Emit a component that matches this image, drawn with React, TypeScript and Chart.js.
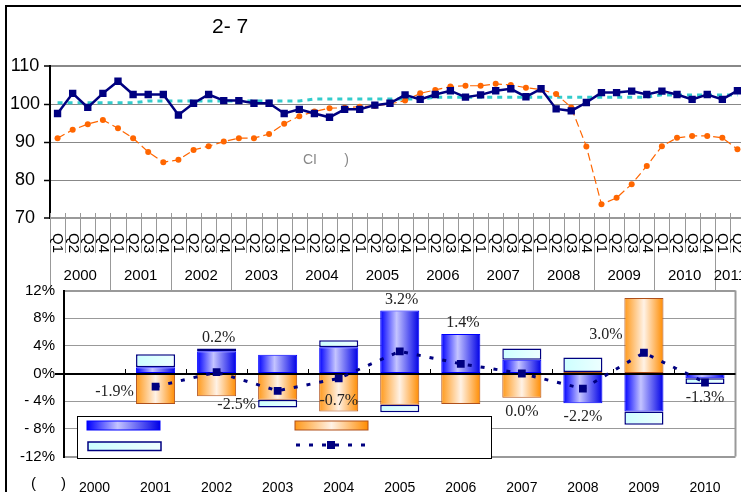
import React, { useEffect, useRef } from "react";
import { Chart, registerables } from "chart.js";

Chart.register(...registerables);

const SANS = '"Liberation Sans", Arial, sans-serif';
const SERIF = '"Liberation Serif", "Times New Roman", serif';

// ---------- Top chart (quarterly index) ----------
const quarterYears = ["2000", "2001", "2002", "2003", "2004", "2005", "2006", "2007", "2008", "2009", "2010", "2011"];
const quarterNames = ["Q1", "Q2", "Q3", "Q4"];
const lastYearQuarterCount = 2;

const quarterCats: { year: string; q: string }[] = [];
quarterYears.forEach((y, yi) => {
  const count = yi === quarterYears.length - 1 ? lastYearQuarterCount : 4;
  for (let k = 0; k < count; k++) quarterCats.push({ year: y, q: quarterNames[k] });
});
const quarterLabels = quarterCats.map((c) => c.year + " " + c.q);

const indexNavy = [
  97.5, 102.8, 99.1, 102.8, 106.0, 102.5, 102.5, 102.5,
  97.1, 100.2, 102.5, 100.9, 100.9, 100.2, 100.2, 97.5,
  98.6, 97.5, 96.5, 98.6, 98.6, 99.7, 100.2, 102.4,
  101.2, 102.5, 103.5, 101.8, 102.4, 103.5, 104.0, 101.9,
  104.0, 98.7, 98.2, 100.4, 103.0, 103.0, 103.4, 102.5,
  103.4, 102.5, 101.2, 102.5, 101.2, 103.5,
];
const indexOrange = [
  91.0, 93.2, 94.7, 95.8, 93.6, 91.0, 87.4, 84.7,
  85.3, 87.9, 88.9, 90.1, 91.0, 91.0, 92.1, 94.8,
  96.8, 98.0, 98.9, 99.0, 99.3, 99.5, 100.0, 100.9,
  102.8, 103.7, 104.6, 104.8, 104.8, 105.3, 105.0, 104.3,
  103.8, 102.6, 99.1, 88.8, 73.6, 75.3, 78.9, 83.7,
  88.9, 91.1, 91.6, 91.6, 91.1, 88.1,
];
const indexTrend = [
  100.3, 100.3, 100.3, 100.3, 100.3, 100.3, 100.8, 100.8,
  100.8, 100.8, 100.8, 100.8, 100.8, 100.8, 100.8, 100.8,
  100.8, 101.3, 101.3, 101.3, 101.3, 101.3, 101.3, 101.3,
  101.3, 101.8, 101.8, 101.8, 101.8, 101.8, 101.8, 101.8,
  101.8, 101.8, 101.8, 101.8, 101.8, 101.8, 101.8, 101.8,
  102.4, 102.4, 102.4, 102.4, 102.4, 102.4,
];
const topYMin = 70;
const topYMax = 110;
const topYStep = 10;

// ---------- Bottom chart (annual contributions) ----------
const annualYears = ["2000", "2001", "2002", "2003", "2004", "2005", "2006", "2007", "2008", "2009", "2010"];
const shareBlue = [null, 0.9, 3.2, 2.7, 3.8, 9.1, 5.7, 2.0, -4.3, -5.5, -0.7];
const shareOrange = [null, -4.4, -3.3, -3.8, -5.5, -4.5, -4.4, -3.5, 0.2, 10.9, 0];
const shareCyan = [null, 1.9, 0.4, -1.1, 1.0, -1.1, 0, 1.6, 2.1, -1.9, -0.8];
const totalGrowth = [null, -1.9, 0.2, -2.5, -0.7, 3.2, 1.4, 0.0, -2.2, 3.0, -1.3];
const totalLabelPlacement = ["", "left", "above", "belowLeft", "inside", "above", "above", "below", "below", "aboveLeft", "below"];
const bottomTickValues = [-12, -8, -4, 0, 4, 8, 12];
const bottomTickLabels = ["-12%", "- 8%", "- 4%", "0%", "4%", "8%", "12%"];

const BAR_PCT = 0.64;
const BLUE_STOPS: [number, string][] = [[0, "#0000ff"], [0.42, "#c4c4ff"], [1, "#0000e6"]];
const ORANGE_STOPS: [number, string][] = [[0, "#ff991a"], [0.5, "#fff2e6"], [1, "#ff8c00"]];
const CYAN_STOPS: [number, string][] = [[0, "#ccffff"], [1, "#eeffff"]];

function makeGrad(ctx: CanvasRenderingContext2D, x0: number, x1: number, stops: [number, string][]) {
  const g = ctx.createLinearGradient(x0, 0, x1, 0);
  stops.forEach(([o, c]) => g.addColorStop(o, c));
  return g;
}

function barFill(stops: [number, string][]) {
  return (c: any) => {
    const chart = c.chart;
    const xs = chart.scales && chart.scales.x;
    if (!xs || c.dataIndex === undefined || !xs.width) return stops[0][1];
    const cx = xs.getPixelForValue(c.dataIndex);
    const w = (xs.width / annualYears.length) * BAR_PCT;
    return makeGrad(chart.ctx, cx - w / 2, cx + w / 2, stops);
  };
}

const quarterAxisPlugin = {
  id: "quarterAxis",
  afterDraw(chart: any) {
    const { ctx, chartArea } = chart;
    const x = chart.scales.x;
    const n = quarterLabels.length;
    const step = x.width / n;
    ctx.save();
    ctx.strokeStyle = "#999";
    ctx.lineWidth = 1;
    for (let i = 0; i <= n; i++) {
      const bx = Math.round(x.getPixelForValue(i) - step / 2) + 0.5;
      const isYear = i === n || quarterCats[i].q === "Q1";
      ctx.beginPath();
      ctx.moveTo(bx, chartArea.bottom - 5);
      ctx.lineTo(bx, isYear ? chartArea.bottom + 72 : chartArea.bottom + 35);
      ctx.stroke();
    }
    ctx.fillStyle = "#000";
    ctx.font = "15px " + SANS;
    ctx.textAlign = "left";
    ctx.textBaseline = "middle";
    for (let i = 0; i < n; i++) {
      ctx.save();
      ctx.translate(x.getPixelForValue(i), chartArea.bottom + 15);
      ctx.rotate(Math.PI / 2);
      ctx.fillText(quarterCats[i].q, 0, 0);
      ctx.restore();
    }
    ctx.textAlign = "center";
    ctx.font = "15px " + SANS;
    quarterYears.forEach((y) => {
      const idx = quarterCats.map((c, i) => (c.year === y ? i : -1)).filter((i) => i >= 0);
      const a = x.getPixelForValue(idx[0]) - step / 2;
      const b = x.getPixelForValue(idx[idx.length - 1]) + step / 2;
      ctx.fillText(y, (a + b) / 2, chartArea.bottom + 58);
    });
    ctx.restore();
  },
};

const bottomDecorPlugin = {
  id: "bottomDecor",
  beforeDatasetsDraw(chart: any) {
    const { ctx, chartArea } = chart;
    ctx.save();
    ctx.strokeStyle = "#999";
    ctx.lineWidth = 2;
    ctx.beginPath();
    ctx.moveTo(chartArea.right, chartArea.top);
    ctx.lineTo(chartArea.right, chartArea.bottom);
    ctx.stroke();
    ctx.restore();
  },
  beforeDatasetDraw(chart: any, args: any) {
    if (args.meta.type !== "line") return;
    const { ctx, chartArea } = chart;
    const x = chart.scales.x;
    const y = chart.scales.y;
    const y0 = Math.round(y.getPixelForValue(0));
    const step = x.width / annualYears.length;
    ctx.save();
    ctx.strokeStyle = "#000";
    ctx.lineWidth = 2;
    ctx.beginPath();
    ctx.moveTo(chartArea.left - 9, y0);
    ctx.lineTo(chartArea.right, y0);
    ctx.stroke();
    ctx.lineWidth = 1;
    for (let i = 1; i < annualYears.length; i++) {
      const bx = Math.round(x.getPixelForValue(i) - step / 2) + 0.5;
      ctx.beginPath();
      ctx.moveTo(bx, y0);
      ctx.lineTo(bx, y0 - 5);
      ctx.stroke();
    }
    ctx.restore();
  },
  afterDatasetsDraw(chart: any) {
    const { ctx, chartArea } = chart;
    const y = chart.scales.y;
    // legend box (entry texts are blank in the source)
    const lx = chartArea.left + 13;
    const ly = chartArea.bottom - 40.5;
    ctx.save();
    ctx.fillStyle = "#fff";
    ctx.fillRect(lx, ly, 414, 42);
    ctx.strokeStyle = "#000";
    ctx.lineWidth = 1;
    ctx.strokeRect(lx + 0.5, ly + 0.5, 414, 42);
    const sw = (sx: number, sy: number, h: number, stops: [number, string][], border: string, bw: number) => {
      ctx.fillStyle = makeGrad(ctx, sx, sx + 73, stops);
      ctx.fillRect(sx, sy, 73, h);
      ctx.strokeStyle = border;
      ctx.lineWidth = bw;
      ctx.strokeRect(sx, sy, 73, h);
    };
    sw(lx + 10, ly + 5, 9, BLUE_STOPS, "#0000ff", 1);
    sw(lx + 11, ly + 26, 8.5, CYAN_STOPS, "#000080", 1.5);
    sw(lx + 218, ly + 5, 9, ORANGE_STOPS, "#b0501a", 1);
    ctx.strokeStyle = "#000080";
    ctx.lineWidth = 3;
    ctx.setLineDash([4, 9]);
    ctx.beginPath();
    ctx.moveTo(lx + 219, ly + 29);
    ctx.lineTo(lx + 293, ly + 29);
    ctx.stroke();
    ctx.setLineDash([]);
    ctx.fillStyle = "#000080";
    ctx.fillRect(lx + 250, ly + 25, 8, 8);

    // total labels
    const lineMeta = chart.getDatasetMeta(3);
    ctx.font = "16px " + SERIF;
    ctx.fillStyle = "#222";
    ctx.textAlign = "center";
    ctx.textBaseline = "middle";
    totalGrowth.forEach((v, i) => {
      if (v === null) return;
      const pt = lineMeta.data[i];
      const cx = pt.x;
      const cy = pt.y;
      const parts = [shareBlue[i], shareOrange[i], shareCyan[i]].map((p) => p || 0);
      const pos = parts.filter((p) => p > 0).reduce((a, b) => a + b, 0);
      const neg = parts.filter((p) => p < 0).reduce((a, b) => a + b, 0);
      const yTop = y.getPixelForValue(pos);
      const yBot = y.getPixelForValue(neg);
      let tx = cx;
      let ty = cy;
      switch (totalLabelPlacement[i]) {
        case "left": tx = cx - 41; ty = cy + 5; break;
        case "above": tx = cx + 2; ty = yTop - 11; break;
        case "below": tx = cx; ty = yBot + 14; break;
        case "belowLeft": tx = cx - 41; ty = yBot - 3; break;
        case "inside": tx = cx; ty = cy + 22; break;
        case "aboveLeft": tx = cx - 38; ty = cy - 18; break;
      }
      ctx.fillText(v.toFixed(1) + "%", tx, ty);
    });
    ctx.restore();
  },
};

const BOT_TOP = 270;
const BOT_H = 492 - BOT_TOP;

export default function App() {
  const topRef = useRef<HTMLCanvasElement>(null);
  const botRef = useRef<HTMLCanvasElement>(null);

  useEffect(() => {
    const TOP_W = 760;
    const TOP_H = 290;
    const top = new Chart(topRef.current as HTMLCanvasElement, {
      type: "line",
      data: {
        labels: quarterLabels,
        datasets: [
          {
            data: indexTrend,
            borderColor: "#33cccc",
            borderWidth: 3,
            borderDash: [5, 5],
            pointRadius: 0,
            fill: false,
            order: 2,
          },
          {
            data: indexOrange,
            borderColor: "#ff6600",
            borderWidth: 1.2,
            borderDash: [8, 4],
            pointRadius: 3,
            pointStyle: "circle",
            pointBackgroundColor: "#ff6600",
            pointBorderColor: "#ff6600",
            pointBorderWidth: 0,
            fill: false,
            order: 1,
          },
          {
            data: indexNavy,
            borderColor: "#000080",
            borderWidth: 2.5,
            pointStyle: "rect",
            pointRadius: 5.2,
            pointBackgroundColor: "#000080",
            pointBorderColor: "#000080",
            pointBorderWidth: 0,
            fill: false,
            order: 0,
          },
        ],
      } as any,
      options: {
        responsive: false,
        animation: false,
        devicePixelRatio: 1,
        layout: { padding: { top: 66, bottom: TOP_H - 218, right: TOP_W - 745, left: 0 } },
        plugins: { legend: { display: false }, tooltip: { enabled: false } },
        scales: {
          x: {
            type: "category",
            offset: true,
            ticks: { display: false },
            grid: { display: false },
            border: { display: true, color: "#999", width: 2 },
            afterFit: (s: any) => { s.height = 0; },
          },
          y: {
            min: topYMin,
            max: topYMax,
            ticks: {
              stepSize: topYStep,
              color: "#000",
              font: { family: SANS, size: 18 },
              crossAlign: "center",
              padding: 4,
            },
            grid: {
              color: "#888",
              lineWidth: (c: any) => (c.tick && (c.tick.value === topYMin || c.tick.value === topYMax) ? 2 : 1),
              tickColor: "#000",
              tickLength: 6,
              tickWidth: 1.5,
            },
            border: { color: "#000", width: 2 },
            afterFit: (s: any) => { s.width = 50; },
          },
        },
      } as any,
      plugins: [quarterAxisPlugin],
    });

    const bot = new Chart(botRef.current as HTMLCanvasElement, {
      type: "bar",
      data: {
        labels: annualYears,
        datasets: [
          {
            type: "bar",
            data: shareBlue,
            backgroundColor: barFill(BLUE_STOPS),
            borderColor: "#0000ff",
            borderWidth: 1,
            borderSkipped: false,
            stack: "s",
            order: 1,
          },
          {
            type: "bar",
            data: shareOrange,
            backgroundColor: barFill(ORANGE_STOPS),
            borderColor: "#b0501a",
            borderWidth: 1,
            borderSkipped: false,
            stack: "s",
            order: 1,
          },
          {
            type: "bar",
            data: shareCyan,
            backgroundColor: barFill(CYAN_STOPS),
            borderColor: "#000080",
            borderWidth: 1.5,
            borderSkipped: false,
            stack: "s",
            order: 1,
          },
          {
            type: "line",
            data: totalGrowth,
            borderColor: "#000080",
            borderWidth: 3,
            borderDash: [4, 9],
            pointStyle: "rect",
            pointRadius: 5.5,
            pointBackgroundColor: "#000080",
            pointBorderColor: "#000080",
            pointBorderWidth: 0,
            fill: false,
            stack: "t",
            order: 0,
          },
        ],
      } as any,
      options: {
        responsive: false,
        animation: false,
        devicePixelRatio: 1,
        layout: { padding: { top: 290.5 - BOT_TOP, right: 24.5, left: 0, bottom: 0 } },
        datasets: { bar: { barPercentage: BAR_PCT, categoryPercentage: 1 } },
        plugins: { legend: { display: false }, tooltip: { enabled: false } },
        scales: {
          x: {
            stacked: true,
            grid: { display: false },
            border: { display: false },
            ticks: { color: "#000", font: { family: SANS, size: 14 }, padding: 15 },
            afterFit: (s: any) => { s.height = 35.5; },
          },
          y: {
            stacked: true,
            min: -12,
            max: 12,
            afterBuildTicks: (s: any) => { s.ticks = bottomTickValues.map((v) => ({ value: v })); },
            ticks: {
              color: "#000",
              font: { family: SANS, size: 15 },
              padding: 9,
              callback: (v: any) => bottomTickLabels[bottomTickValues.indexOf(Number(v))],
            },
            grid: {
              color: "#999",
              lineWidth: (c: any) => (c.tick && Math.abs(c.tick.value) === 12 ? 2 : 1),
              drawTicks: false,
            },
            border: { color: "#000", width: 2 },
            afterFit: (s: any) => { s.width = 64; },
          },
        },
      } as any,
      plugins: [bottomDecorPlugin],
    });

    return () => {
      top.destroy();
      bot.destroy();
    };
  }, []);

  const txt = (extra: React.CSSProperties): React.CSSProperties => ({
    position: "absolute",
    fontFamily: SANS,
    whiteSpace: "pre",
    ...extra,
  });

  return (
    <div style={{ position: "absolute", left: 0, top: 0, width: 741, height: 492, overflow: "hidden", background: "#fff" }}>
      <div style={{ position: "absolute", left: 5, top: 5, width: 800, height: 600, borderLeft: "2px solid #000", borderTop: "2px solid #000" }} />
      <canvas ref={topRef} width={760} height={290} style={{ position: "absolute", left: 0, top: 0, width: 760, height: 290 }} />
      <canvas ref={botRef} width={760} height={BOT_H} style={{ position: "absolute", left: 0, top: BOT_TOP, width: 760, height: BOT_H }} />
      <div style={txt({ left: 212, top: 15, fontSize: 21, lineHeight: "21px", color: "#000" })}>2- 7</div>
      <div style={txt({ left: 303, top: 152, fontSize: 14, lineHeight: "14px", color: "#888" })}>{"CI       )"}</div>
      <div style={txt({ left: 31, top: 475, fontSize: 15, lineHeight: "15px", color: "#000" })}>{"(      )"}</div>
    </div>
  );
}
